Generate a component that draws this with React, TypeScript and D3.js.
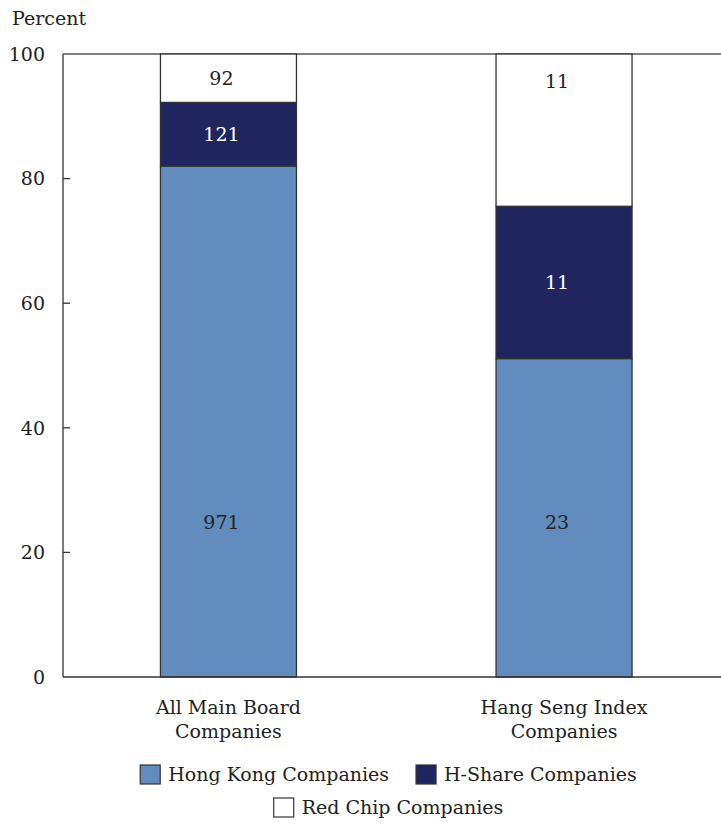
import React, { useEffect, useRef } from "react";
import * as d3 from "d3";

// Listed company counts by type, for the two groups shown
const categories = ["All Main Board Companies", "Hang Seng Index Companies"];
const categoryLines = [["All Main Board", "Companies"], ["Hang Seng Index", "Companies"]];
const seriesNames = ["Hong Kong Companies", "H-Share Companies", "Red Chip Companies"];
const hongKongCounts = [971, 23];
const hShareCounts = [121, 11];
const redChipCounts = [92, 11];
const yTicks = [0, 20, 40, 60, 80, 100];

const W = 721;
const H = 825;
const FONT = "'DejaVu Serif', serif";
const FS = 19;
const COLORS = ["#628cbe", "#21255f", "#ffffff"];
const TEXT_COLORS = ["#222222", "#ffffff", "#222222"];

export default function App() {
  const ref = useRef<SVGSVGElement | null>(null);

  useEffect(() => {
    const svg = d3.select(ref.current);
    svg.selectAll("*").remove();

    const left = 63, top = 54, bottom = 677, right = W;

    const y = d3.scaleLinear().domain([0, 100]).range([bottom, top]);
    const x = d3.scalePoint<string>().domain(categories).range([left, 729.5]).padding(0.493);
    const barW = 136;

    // Convert counts to percent shares and stack them
    const rows = categories.map((c, i) => {
      const counts = [hongKongCounts[i], hShareCounts[i], redChipCounts[i]];
      const total = d3.sum(counts);
      const row: any = { category: c, counts };
      seriesNames.forEach((s, k) => (row[s] = (counts[k] / total) * 100));
      return row;
    });
    const stacked = d3.stack().keys(seriesNames)(rows);

    const g = svg.append("g");

    // Frame lines: top rule and baseline across the full width
    g.append("line").attr("x1", left).attr("x2", right).attr("y1", top).attr("y2", top)
      .attr("stroke", "#555").attr("stroke-width", 1.3);

    // Bars
    stacked.forEach((layer, k) => {
      layer.forEach((d, i) => {
        const cx = x(categories[i])!;
        g.append("rect")
          .attr("x", cx - barW / 2)
          .attr("width", barW)
          .attr("y", y(d[1]))
          .attr("height", y(d[0]) - y(d[1]))
          .attr("fill", COLORS[k])
          .attr("stroke", "#333")
          .attr("stroke-width", 1.3);
      });
    });

    // Count labels inside each segment
    stacked.forEach((layer, k) => {
      layer.forEach((d, i) => {
        const cx = x(categories[i])!;
        let v: number;
        if (k === 0) v = Math.min((d[0] + d[1]) / 2, 24.8);
        else if (k === seriesNames.length - 1) v = Math.max((d[0] + d[1]) / 2, 95.6);
        else v = (d[0] + d[1]) / 2;
        g.append("text")
          .attr("x", cx - 7)
          .attr("y", y(v))
          .attr("dy", "0.36em")
          .attr("text-anchor", "middle")
          .attr("font-family", FONT)
          .attr("font-size", FS)
          .attr("fill", TEXT_COLORS[k])
          .text(rows[i].counts[k]);
      });
    });

    // Left axis with inward ticks
    g.append("line").attr("x1", left).attr("x2", left).attr("y1", top).attr("y2", bottom)
      .attr("stroke", "#333").attr("stroke-width", 1.3);
    g.append("line").attr("x1", left).attr("x2", right).attr("y1", bottom).attr("y2", bottom)
      .attr("stroke", "#333").attr("stroke-width", 1.3);
    yTicks.forEach((t) => {
      if (t !== 0 && t !== 100) {
        g.append("line").attr("x1", left).attr("x2", left + 7).attr("y1", y(t)).attr("y2", y(t))
          .attr("stroke", "#333").attr("stroke-width", 1.3);
      }
      g.append("text")
        .attr("x", 45)
        .attr("y", y(t))
        .attr("dy", "0.36em")
        .attr("text-anchor", "end")
        .attr("font-family", FONT)
        .attr("font-size", FS)
        .attr("fill", "#222")
        .text(t);
    });

    g.append("text").attr("x", 12).attr("y", 25).attr("font-family", FONT).attr("font-size", FS)
      .attr("fill", "#222").text("Percent");

    // Category labels
    categories.forEach((c, i) => {
      const cx = x(c)!;
      categoryLines[i].forEach((line, j) => {
        g.append("text")
          .attr("x", cx)
          .attr("y", 714 + j * 24)
          .attr("text-anchor", "middle")
          .attr("font-family", FONT)
          .attr("font-size", FS)
          .attr("fill", "#222")
          .text(line);
      });
    });

    // Legend, centered under the plot
    const legendRows = [[0, 1], [2]];
    const legendCenter = 388.5;
    const sw = 20, gapIn = 8, gapOut = 27;
    legendRows.forEach((items, r) => {
      const rowY = 774.5 + r * 33;
      const lg = g.append("g");
      let cursor = 0;
      items.forEach((k, idx) => {
        if (idx > 0) cursor += gapOut;
        lg.append("rect")
          .attr("x", cursor).attr("y", rowY - 9.5).attr("width", sw).attr("height", 19)
          .attr("fill", COLORS[k]).attr("stroke", "#333").attr("stroke-width", 1.2);
        const txt = lg.append("text")
          .attr("x", cursor + sw + gapIn)
          .attr("y", rowY)
          .attr("dy", "0.36em")
          .attr("font-family", FONT)
          .attr("font-size", FS)
          .attr("fill", "#222")
          .text(seriesNames[k]);
        const tw = (txt.node() as SVGTextElement).getComputedTextLength();
        cursor += sw + gapIn + tw;
      });
      lg.attr("transform", `translate(${legendCenter - cursor / 2},0)`);
    });
  }, []);

  return (
    <svg
      ref={ref}
      width={W}
      height={H}
      style={{ position: "absolute", left: 0, top: 0, background: "#fff" }}
    />
  );
}
